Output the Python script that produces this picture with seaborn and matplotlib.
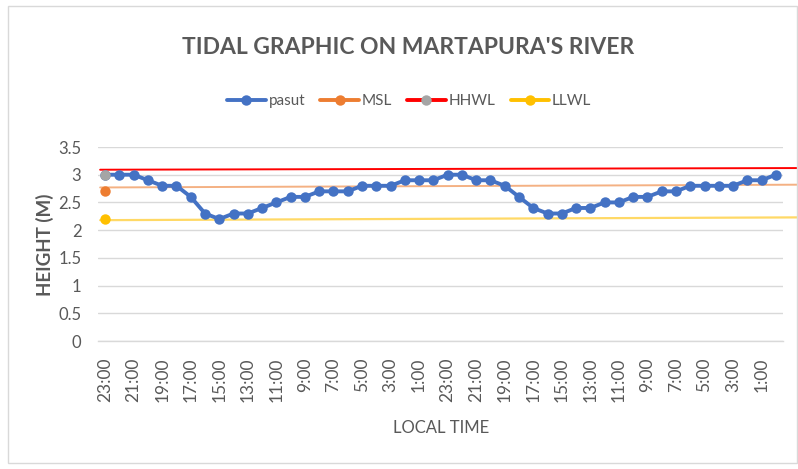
import numpy as np
import pandas as pd
import matplotlib
matplotlib.use("Agg")
import matplotlib.pyplot as plt
from matplotlib.patches import Rectangle
from matplotlib.lines import Line2D
import seaborn as sns

# ---------------- data ----------------
hours = ["23:00", "22:00", "21:00", "20:00", "19:00", "18:00", "17:00", "16:00",
         "15:00", "14:00", "13:00", "12:00", "11:00", "10:00", "9:00", "8:00",
         "7:00", "6:00", "5:00", "4:00", "3:00", "2:00", "1:00", "0:00"]
time_labels = hours + hours

pasut = [3.0, 3.0, 3.0, 2.9, 2.8, 2.8, 2.6, 2.3, 2.2, 2.3, 2.3, 2.4,
         2.5, 2.6, 2.6, 2.7, 2.7, 2.7, 2.8, 2.8, 2.8, 2.9, 2.9, 2.9,
         3.0, 3.0, 2.9, 2.9, 2.8, 2.6, 2.4, 2.3, 2.3, 2.4, 2.4, 2.5,
         2.5, 2.6, 2.6, 2.7, 2.7, 2.8, 2.8, 2.8, 2.8, 2.9, 2.9, 3.0]

# single-point reference series (first category only)
msl_point = [2.7]
hhwl_point = [3.0]
llwl_point = [2.2]

# overlaid reference lines (start value, end value)
hhwl_line = [3.09, 3.12]
msl_line = [2.77, 2.82]
llwl_line = [2.18, 2.23]
line_x = [-0.35, 48.5]

y_ticks = [0, 0.5, 1, 1.5, 2, 2.5, 3, 3.5]
y_tick_labels = ["0", "0.5", "1", "1.5", "2", "2.5", "3", "3.5"]

title = "TIDAL GRAPHIC ON MARTAPURA'S RIVER"
x_label = "LOCAL TIME"
y_label = "HEIGHT (M)"

# ---------------- style ----------------
sns.set_theme(style="white")
plt.rcParams['font.family'] = ['Lato', 'DejaVu Sans']

BLUE = "#4472C4"
ORANGE = "#ED7D31"
GRAY = "#A5A5A5"
YELLOW = "#FFC000"
RED = "#FF0000"
TXT = "#595959"
GRID = "#D9D9D9"

fig = plt.figure(figsize=(7.98, 4.69), dpi=100)
ax = fig.add_axes([98/798, 1-341/469, (783-98)/798, (341-147)/469])

df = pd.DataFrame({"idx": np.arange(len(pasut)), "pasut": pasut})

# reference lines (drawn behind)
ax.plot(line_x, hhwl_line, color=RED, lw=1.4, clip_on=False, zorder=2)
ax.plot(line_x, msl_line, color="#F4B183", lw=1.4, clip_on=False, zorder=2)
ax.plot(line_x, llwl_line, color="#FFD966", lw=1.6, clip_on=False, zorder=2)

sns.lineplot(data=df, x="idx", y="pasut", ax=ax, color=BLUE, lw=2.8,
             marker="o", markersize=7.5, markeredgewidth=0, zorder=4, legend=False)

ax.plot([0], msl_point, "o", color=ORANGE, ms=7.5, mew=0, zorder=5)
ax.plot([0], llwl_point, "o", color=YELLOW, ms=7.5, mew=0, zorder=5)
ax.plot([0], hhwl_point, "o", color=GRAY, ms=7.5, mew=0, zorder=5)

ax.set_xlim(-0.5, len(pasut) - 0.5)
ax.set_ylim(0, 3.5)
ax.set_yticks(y_ticks)
ax.set_yticklabels(y_tick_labels)
ax.set_xticks(np.arange(0, len(pasut), 2))
ax.set_xticklabels(time_labels[::2], rotation=90)
ax.set_xlabel("")
ax.set_ylabel("")

ax.grid(axis="y", color=GRID, lw=1)
ax.set_axisbelow(True)
for s in ["top", "right", "left"]:
    ax.spines[s].set_visible(False)
ax.spines["bottom"].set_color(GRID)
ax.spines["bottom"].set_linewidth(1)

ax.tick_params(axis="y", length=0, pad=12, labelsize=12, labelcolor=TXT)
ax.tick_params(axis="x", length=0, pad=12, labelsize=12.5, labelcolor=TXT)

fig.text(0.512, 1 - 47/469, title, ha="center", va="center",
         fontsize=16.5, fontweight="bold", color=TXT)
fig.text(441/798, 1 - 428/469, x_label, ha="center", va="center",
         fontsize=12, color=TXT)
fig.text(45/798, 1 - 245/469, y_label, ha="center", va="center",
         rotation=90, fontsize=13.5, fontweight="bold", color=TXT)

handles = [
    Line2D([], [], color=BLUE, lw=2.8, marker="o", ms=7.5, mew=0),
    Line2D([], [], color=ORANGE, lw=2.8, marker="o", ms=7.5, mew=0),
    Line2D([], [], color=RED, lw=2.8, marker="o", ms=7.5, mew=0,
           markerfacecolor=GRAY),
    Line2D([], [], color=YELLOW, lw=2.8, marker="o", ms=7.5, mew=0),
]
fig.legend(handles, ["pasut", "MSL", "HHWL", "LLWL"], loc="center",
           bbox_to_anchor=(0.513, 1 - 101/469), ncol=4, frameon=False,
           fontsize=11, handlelength=2.5, handletextpad=0.2,
           columnspacing=1.0, labelcolor=TXT)

fig.add_artist(Rectangle((8/798, 6/469), 1 - 9/798, 1 - 12/469,
                         transform=fig.transFigure, fill=False,
                         edgecolor=GRID, lw=1))

fig.savefig("out.png", dpi=100)
